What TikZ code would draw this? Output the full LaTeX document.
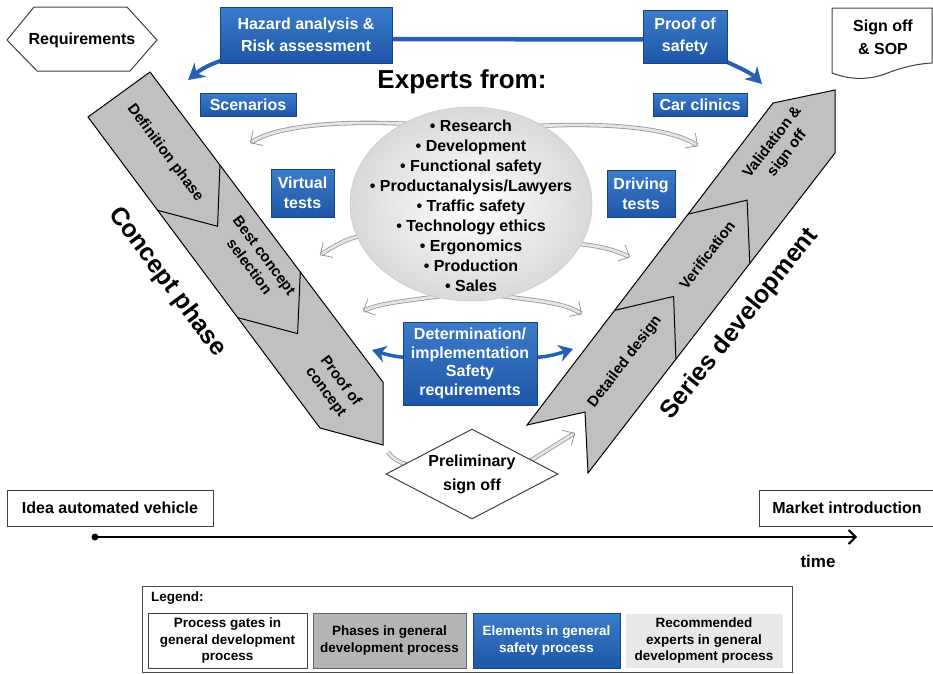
\documentclass[tikz,border=0pt]{standalone}
\usepackage{fontspec}
\setmainfont{Liberation Sans}
\usetikzlibrary{arrows.meta,shapes.geometric,calc}
\pgfdeclarelayer{back}
\pgfsetlayers{back,main}
\definecolor{bluetop}{RGB}{60,124,202}
\definecolor{bluebot}{RGB}{30,86,168}
\definecolor{blueedge}{RGB}{22,66,135}
\definecolor{bluearr}{RGB}{36,96,180}
\definecolor{bandgray}{RGB}{192,192,192}
\definecolor{arrgray}{RGB}{150,150,150}
\definecolor{arrfill}{RGB}{228,228,228}
\definecolor{leggray}{RGB}{180,180,180}
\definecolor{leglight}{RGB}{232,232,232}
\begin{document}
\begin{tikzpicture}[x=1pt,y=-1pt,
  bluebox/.style={draw=blueedge, line width=0.6pt, top color=bluetop, bottom color=bluebot, text=white, align=center, inner sep=0pt, font=\bfseries\fontsize{16}{20}\selectfont},
  gate/.style={draw=black!75, line width=1pt, fill=white, align=center, inner sep=0pt, font=\bfseries\fontsize{16}{20}\selectfont},
  gatepath/.style={draw=black!75, line width=1pt, fill=white},
  gatetext/.style={align=center, inner sep=0pt, font=\bfseries\fontsize{16}{23}\selectfont},
  band/.style={draw=black, line width=1pt, fill=bandgray},
  sepline/.style={draw=black, line width=1pt},
  bandtext/.style={align=center, inner sep=0pt, font=\bfseries\fontsize{15}{18.5}\selectfont},
  bigtext/.style={inner sep=0pt, font=\bfseries\fontsize{25}{30}\selectfont},
  grayarrow/.style={draw=arrgray, line width=0.8pt, double=arrfill, double distance=2.8pt, -{Straight Barb[length=9pt,width=18pt]}},
  bluearrow/.style={draw=bluearr, line width=4pt, -{Stealth[length=16pt,width=18pt]}},
  legbox/.style={line width=1pt, align=center, inner sep=0pt, minimum height=55pt, font=\bfseries\fontsize{13.5}{16.5}\selectfont},
]
\useasboundingbox (0,0) rectangle (933,673);

% ---- phase bands ----
\draw[band] (150,72) -- (383,382) -- (383,445) -- (320,428) -- (88,117) -- cycle;
\draw[sepline] (157.6,210.3) -- (217.6,226.3) -- (219.9,165);
\draw[sepline] (237.6,317.6) -- (297.6,333.6) -- (300.3,272);
\draw[band] (527,425) -- (585,412) -- (588,473) -- (835,153) -- (835,90) -- (773,103) -- cycle;
\draw[sepline] (614.6,310.4) -- (673.6,296.4) -- (675.9,359.1);
\draw[sepline] (688.1,214.1) -- (747.1,200.1) -- (749.8,263.4);

\node[bandtext, rotate=-53.3] (defph) at (165,153) {Definition phase};
\node[bandtext, rotate=-53.3] (bestc) at (257,261) {Best concept\\selection};
\node[bandtext, rotate=-53.3] (poc) at (333,387) {Proof of\\concept};
\node[bandtext, rotate=52.6] (detd) at (625,362) {Detailed design};
\node[bandtext, rotate=52.6] (verif) at (707,255) {Verification};
\node[bandtext, rotate=52.6] (valid) at (780,148) {Validation \&\\sign off};
\node[bigtext, rotate=-53.3] (conc) at (167,282) {Concept phase};
\node[bigtext, rotate=51.5] (series) at (740,324) {Series development};

% ---- experts ellipse ----
\node[ellipse, minimum width=242pt, minimum height=194pt, inner color=white, outer color=gray!30, draw=gray!45, line width=0.5pt] (ell) at (471,204) {};
\node[align=center, inner sep=0pt, font=\bfseries\fontsize{16}{20}\selectfont] (list) at (471,206)
  {• Research\\• Development\\• Functional safety\\• Productanalysis/Lawyers\\• Traffic safety\\• Technology ethics\\• Ergonomics\\• Production\\• Sales};
\node[inner sep=0pt, font=\bfseries\fontsize{26}{30}\selectfont] (expfrom) at (462,82) {Experts from:};

% ---- safety process elements ----
\node[bluebox, minimum width=172pt, minimum height=56pt, font=\bfseries\fontsize{16}{22}\selectfont] (haz) at (306,35) {Hazard analysis \&\\Risk assessment};
\node[bluebox, minimum width=84pt, minimum height=53pt, font=\bfseries\fontsize{16}{22}\selectfont] (proof) at (685,36.5) {Proof of\\safety};
\node[bluebox, minimum width=96pt, minimum height=23pt] (scen) at (248,104.5) {Scenarios};
\node[bluebox, minimum width=94pt, minimum height=23pt] (carc) at (700,104.5) {Car clinics};
\node[bluebox, minimum width=63pt, minimum height=48pt] (virt) at (302.5,193) {Virtual\\tests};
\node[bluebox, minimum width=68pt, minimum height=47pt] (drive) at (641,193.5) {Driving\\tests};
\node[bluebox, minimum width=134pt, minimum height=83pt, font=\bfseries\fontsize{16}{18.5}\selectfont] (det) at (470,363.5) {Determination/\\implementation\\Safety\\requirements};

% ---- gates ----
\draw[gatepath] (7,40) -- (34,7) -- (127,7) -- (157,40) -- (130,71) -- (37,71) -- cycle;
\node[gatetext] (req) at (82,40) {Requirements};
\draw[gatepath] (832,8) -- (932,8) -- (932,63) .. controls (915,64) and (900,68) .. (885,74) .. controls (865,81) and (848,79) .. (832,73) -- cycle;
\node[gatetext] (sop) at (883,37) {Sign off\\\& SOP};
\node[diamond, draw=black!75, line width=1pt, fill=white, aspect=1.91, minimum width=172pt, minimum height=90pt, inner sep=0pt, align=center, font=\bfseries\fontsize{16}{24}\selectfont] (prelim) at (472,474) {Preliminary\\sign off};

% ---- arrows behind ----
\begin{pgfonlayer}{back}
\coordinate (g1) at (250,143);
\coordinate (g2) at (698,146);
\coordinate (g3) at (320,255);
\coordinate (g4) at (630,257);
\coordinate (g5) at (363,311);
\coordinate (g6) at (582,314);
\coordinate (g7) at (575,433);
\coordinate (g8) at (388,452);
\draw[grayarrow] ($(ell.center)+(-60,-80)$) .. controls (330,120) and (275,127) .. (g1);
\draw[grayarrow] ($(ell.center)+(65,-78)$) .. controls (620,122) and (675,130) .. (g2);
\draw[grayarrow] ($(ell.center)+(-110,32)$) .. controls (348,238) and (334,246) .. (g3);
\draw[grayarrow] ($(ell.center)+(108,40)$) .. controls (600,246) and (615,250) .. (g4);
\draw[grayarrow] ($(ell.center)+(-30,92)$) .. controls (405,301) and (380,303) .. (g5);
\draw[grayarrow] ($(ell.center)+(30,92)$) .. controls (540,301) and (565,303) .. (g6);
\draw[grayarrow] (g8) .. controls (395,463) and (412,470) .. (prelim.center);
\draw[grayarrow] ($(prelim.center)+(56,-12)$) .. controls (545,452) and (560,442) .. (g7);

\coordinate (b1) at (188,80);
\coordinate (b2) at (762,84);
\coordinate (b3) at (372,350);
\coordinate (b4) at (573,349);
\draw[draw=bluearr, line width=4.5pt] ($(haz.east)+(-5,4)$) -- ($(proof.west)+(5,3)$);
\draw[bluearrow] ($(haz.south west)+(14,-6)$) .. controls (212,62) and (200,70) .. (b1);
\draw[bluearrow] ($(proof.south east)+(-10,-6)$) .. controls (735,66) and (750,72) .. (b2);
\draw[bluearrow, line width=3.5pt, -{Stealth[length=14pt,width=17pt]}] ($(det.west)+(5,-6)$) .. controls (395,357) and (385,354) .. (b3);
\draw[bluearrow, line width=3.5pt, -{Stealth[length=14pt,width=17pt]}] ($(det.east)+(-5,-6)$) .. controls (550,357) and (560,353) .. (b4);
\end{pgfonlayer}

% ---- timeline ----
\node[gate, minimum width=206pt, minimum height=36pt] (idea) at (110,508) {Idea automated vehicle};
\node[gate, minimum width=176pt, minimum height=36pt] (market) at (847,508) {Market introduction};
\coordinate (t0) at (95,537);
\coordinate (t1) at (857,537);
\fill (t0) circle (3.5pt);
\draw[line width=2pt, -{Straight Barb[length=7pt,width=14pt]}] (t0) -- (t1);
\node[inner sep=0pt, font=\bfseries\fontsize{17}{20}\selectfont] (time) at (818,561) {time};

% ---- legend ----
\node[draw=black!70, line width=1pt, minimum width=650pt, minimum height=86pt, inner sep=0pt] (legend) at (467,629) {};
\node[anchor=west, inner sep=0pt, font=\bfseries\fontsize{13.5}{16}\selectfont] (legtitle) at (151,598) {Legend:};
\node[legbox, draw=black!75, fill=white, minimum width=159pt] (l1) at (227.5,640.5) {Process gates in\\general development\\process};
\node[legbox, draw=black!60, fill=leggray, minimum width=153pt] (l2) at (389.5,640.5) {Phases in general\\development process};
\node[legbox, draw=blueedge, top color=bluetop, bottom color=bluebot, text=white, minimum width=147pt] (l3) at (546.5,640.5) {Elements in general\\safety process};
\node[legbox, draw=white, fill=leglight, minimum width=158pt] (l4) at (704,640.5) {Recommended\\experts in general\\development process};
\end{tikzpicture}
\end{document}
